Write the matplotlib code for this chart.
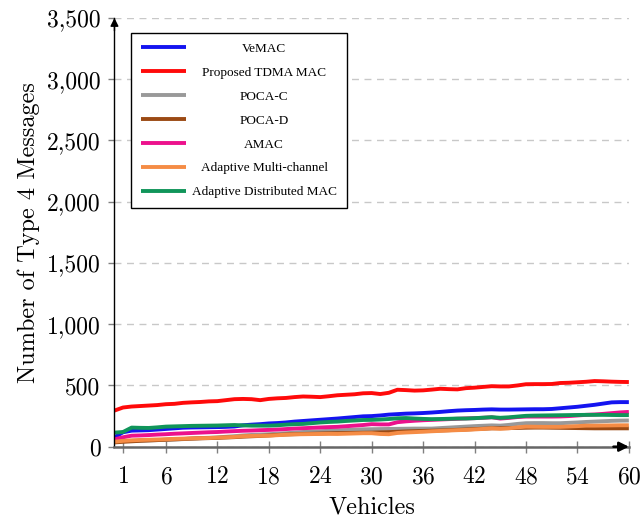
import matplotlib
matplotlib.use("Agg")
import matplotlib.pyplot as plt
from matplotlib.ticker import FuncFormatter

vehicles = list(range(0, 61))

vemac = [77, 118, 131, 133, 135, 140, 145, 150, 155, 157, 158, 159, 160, 162, 165, 175, 180, 184, 190, 193,
         198, 205, 210, 215, 220, 225, 230, 236, 242, 248, 250, 255, 262, 266, 270, 272, 275, 279, 284, 290,
         295, 298, 300, 303, 305, 303, 303, 304, 305, 306, 306, 308, 314, 320, 326, 334, 342, 352, 362, 364, 364]
proposed = [295, 320, 328, 332, 336, 340, 347, 350, 358, 362, 365, 370, 372, 380, 388, 390, 388, 380, 390, 395,
            398, 405, 410, 408, 405, 412, 420, 424, 428, 436, 438, 430, 440, 465, 462, 458, 460, 466, 473, 470,
            468, 478, 482, 488, 494, 492, 492, 500, 510, 511, 511, 512, 520, 522, 526, 530, 536, 534, 531, 529, 528]
poca_c = [41, 45, 48, 50, 52, 54, 56, 59, 62, 66, 70, 73, 76, 81, 86, 92, 96, 99, 102, 106,
          110, 115, 120, 123, 126, 130, 133, 136, 139, 142, 143, 144, 145, 146, 147, 148, 148, 148, 152, 156,
          160, 164, 168, 171, 174, 172, 178, 186, 192, 193, 193, 192, 192, 195, 198, 202, 205, 208, 211, 213, 214]
poca_d = [35, 40, 44, 48, 51, 54, 57, 60, 63, 66, 68, 70, 72, 75, 78, 82, 85, 88, 92, 96,
          100, 102, 104, 106, 108, 110, 111, 112, 113, 114, 115, 117, 119, 122, 125, 127, 129, 131, 133, 135,
          138, 141, 144, 147, 150, 151, 152, 153, 155, 156, 156, 155, 154, 153, 152, 151, 150, 150, 150, 150, 150]
amac = [60, 77, 90, 92, 95, 99, 102, 106, 109, 112, 115, 118, 120, 124, 127, 130, 132, 135, 137, 140,
        144, 148, 151, 154, 157, 160, 162, 167, 172, 177, 184, 182, 182, 200, 207, 212, 216, 219, 222, 225,
        228, 231, 233, 236, 240, 230, 235, 242, 246, 246, 246, 246, 247, 250, 255, 260, 263, 268, 274, 280, 284]
adaptive_mc = [41, 48, 52, 55, 57, 59, 61, 64, 66, 68, 70, 71, 74, 77, 80, 86, 88, 89, 90, 94,
               98, 101, 102, 103, 104, 105, 104, 106, 108, 110, 110, 104, 102, 112, 116, 119, 122, 126, 129, 132,
               135, 137, 141, 145, 150, 146, 150, 158, 164, 163, 162, 162, 162, 165, 168, 172, 172, 173, 174, 175, 175]
adaptive_dist = [115, 120, 156, 154, 153, 158, 164, 166, 168, 170, 171, 172, 173, 175, 177, 174, 172, 172, 172, 175,
                 180, 184, 186, 192, 198, 202, 205, 210, 214, 218, 219, 222, 226, 232, 234, 230, 227, 225, 226, 228,
                 230, 230, 233, 237, 241, 236, 240, 246, 252, 254, 255, 256, 257, 258, 259, 260, 260, 260, 259, 258, 258]

series = [
    ("VeMAC", vemac, "#1414F0"),
    ("Proposed TDMA MAC", proposed, "#FF0A0A"),
    ("POCA-C", poca_c, "#999999"),
    ("POCA-D", poca_d, "#9B4A14"),
    ("AMAC", amac, "#EC118C"),
    ("Adaptive Multi-channel", adaptive_mc, "#F58C45"),
    ("Adaptive Distributed MAC", adaptive_dist, "#10955A"),
]

x_ticks = [1, 6, 12, 18, 24, 30, 36, 42, 48, 54, 60]
y_ticks = [0, 500, 1000, 1500, 2000, 2500, 3000, 3500]

plt.rcParams['font.family'] = ['cmr10', 'DejaVu Serif']
plt.rcParams['axes.formatter.use_mathtext'] = True

fig = plt.figure(figsize=(6.43, 5.21), dpi=100)
ax = fig.add_axes([0.178, 0.1426, 0.8, 0.8229])

for name, vals, col in series:
    ax.plot(vehicles, vals, color=col, lw=2.8, label=name, solid_capstyle='butt')

ax.set_xlim(0, 60)
ax.set_ylim(0, 3500)
ax.set_xticks(x_ticks)
ax.set_yticks(y_ticks)
ax.yaxis.set_major_formatter(FuncFormatter(lambda v, p: f"{int(v):,}"))
ax.tick_params(axis='both', labelsize=17, color='#808080')
ax.tick_params(axis='x', direction='inout', length=8, width=1, pad=10)
ax.tick_params(axis='y', direction='out', length=4, width=1, pad=6)
ax.grid(axis='y', linestyle=(0, (5, 4)), color='#c8c8c8', lw=1)
ax.set_axisbelow(True)

for s in ['top', 'right']:
    ax.spines[s].set_visible(False)
ax.spines['left'].set_color('black')
ax.spines['left'].set_linewidth(1.0)
ax.spines['bottom'].set_color('#666666')
ax.spines['bottom'].set_linewidth(1.8)

ax.annotate('', xy=(0, 1.0), xytext=(0, 0.97), xycoords='axes fraction',
            arrowprops=dict(arrowstyle='-|>', color='black', lw=1.0, mutation_scale=12, shrinkA=0, shrinkB=0))
ax.annotate('', xy=(1.0, 0), xytext=(0.97, 0), xycoords='axes fraction',
            arrowprops=dict(arrowstyle='-|>', color='black', lw=1.8, mutation_scale=14, shrinkA=0, shrinkB=0))

ax.set_xlabel('Vehicles', fontsize=17.5, labelpad=6)
ax.set_ylabel('Number of Type 4 Messages', fontsize=17.5, labelpad=5)

leg = ax.legend(loc='upper left', bbox_to_anchor=(0.032, 0.965),
                prop={'family': 'Liberation Serif', 'size': 9.5},
                frameon=True, fancybox=False, edgecolor='black', framealpha=1,
                handlelength=3.4, handletextpad=0.45, labelspacing=0.88, borderpad=0.75,
                borderaxespad=0)
leg.get_frame().set_linewidth(1.0)

fig.canvas.draw()
r = fig.canvas.get_renderer()
widths = [t.get_window_extent(r).width for t in leg.get_texts()]
mw = max(widths)
for t, w in zip(leg.get_texts(), widths):
    t.set_x((mw - w) / 2)

fig.savefig('out.png', dpi=100)
